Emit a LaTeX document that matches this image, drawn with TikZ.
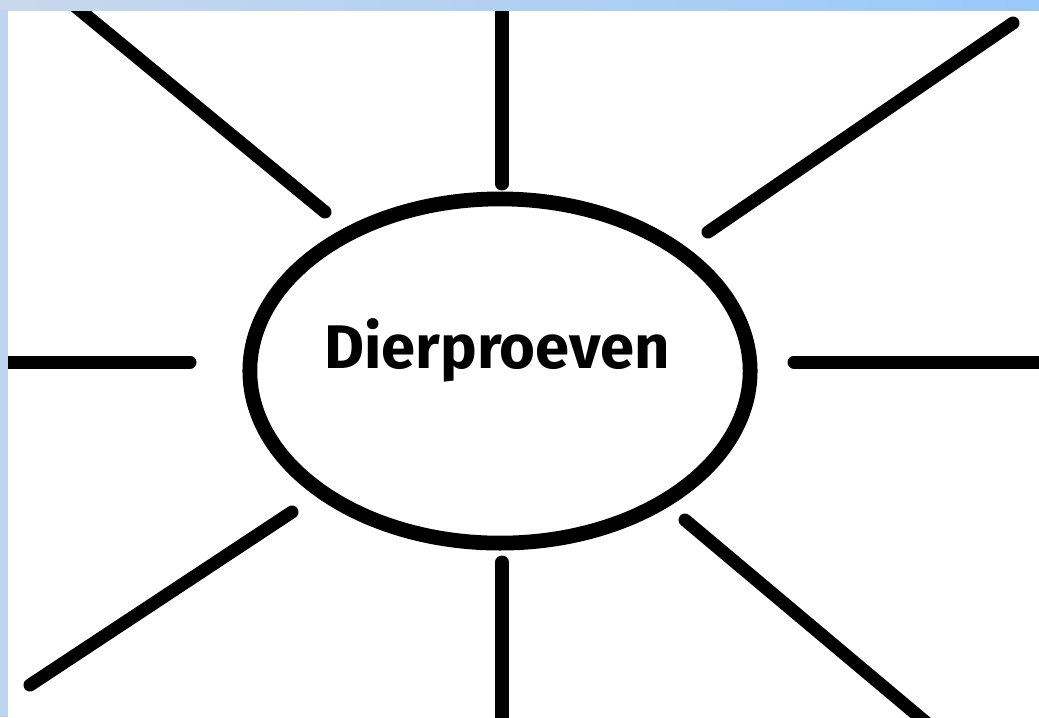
\documentclass[tikz,border=0pt]{standalone}
\usepackage{fontspec}
\setmainfont{Fira Sans}
\usepackage{tikz}
\usetikzlibrary{shapes.geometric, positioning}
\definecolor{mydark}{RGB}{0,0,0}
\definecolor{frameleft}{RGB}{200,216,236}
\definecolor{frameright}{RGB}{153,201,249}
\definecolor{frameside}{RGB}{189,213,240}
\tikzset{
  hub/.style={ellipse, draw=mydark, fill=white, line width=4.2pt,
    minimum width=5.0cm, minimum height=3.44cm, inner sep=0pt},
  hubtext/.style={font=\fontsize{17.5}{21}\selectfont\bfseries, anchor=base},
  ray/.style={line width=3.7pt, color=mydark, line cap=round}
}
\begin{document}
\begin{tikzpicture}[x=0.01cm, y=-0.01cm]
  \useasboundingbox (0,0) rectangle (1039,717);
  \fill[white] (0,0) rectangle (1039,717);

  % --- centre ---
  \node[hub] (hub) at (500,371) {};
  \node[hubtext] (title) at (497,368) {Dierproeven};

  % --- ray ends ---
  \coordinate (nwout) at (70,2);    \coordinate (nwin) at (325,212);
  \coordinate (nout) at (502,0);    \coordinate (nin) at (502,184);
  \coordinate (neout) at (1013,23); \coordinate (nein) at (708,232);
  \coordinate (wout) at (0,362);    \coordinate (win) at (190,362);
  \coordinate (eout) at (1039,362); \coordinate (ein) at (794,362);
  \coordinate (swout) at (30,685);  \coordinate (swin) at (292,512);
  \coordinate (sout) at (502,730);  \coordinate (sin) at (502,562);
  \coordinate (seout) at (935,730); \coordinate (sein) at (685,520);

  % --- rays ---
  \foreach \a/\b in {nwout/nwin, nout/nin, neout/nein, wout/win,
                     eout/ein, swout/swin, sout/sin, seout/sein}
    \draw[ray] (\a) -- (\b);

  % --- window frame ---
  \shade[left color=frameleft, right color=frameright] (0,0) rectangle (1039,10);
  \fill[frameside] (0,10) rectangle (8,717);
\end{tikzpicture}
\end{document}
